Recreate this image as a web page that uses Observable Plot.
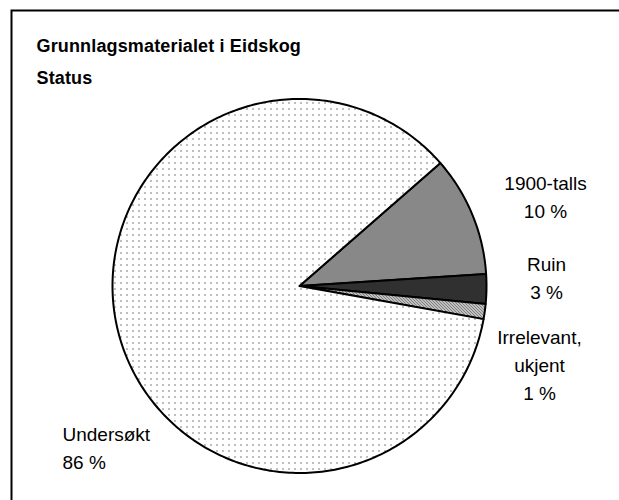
<!DOCTYPE html>
<html><head><meta charset="utf-8">
<script src="https://cdn.jsdelivr.net/npm/d3@7"></script>
<script src="https://cdn.jsdelivr.net/npm/@observablehq/plot@0.6"></script>
<style>html,body{margin:0;padding:0;background:#fff;}</style>
</head><body><div id="chart"></div>
<script>
// ---- data ----
const categories = ["1900-talls", "Ruin", "Irrelevant,\nukjent", "Undersøkt"];
const values = [10.4, 2.55, 1.3, 85.75];
const title = "Grunnlagsmaterialet i Eidskog";
const subtitle = "Status";

// ---- layout / style ----
const W = 619, H = 500, CX = 299, CY = 285.5, R = 187;
const startAngle = 48.9; // degrees clockwise from 12 o'clock
const patternIds = ["gray50", "dark", "diag", "dots"];
const labelLayout = [
  {px: 545, py: 194.5, anchor: "middle"},
  {px: 546, py: 276, anchor: "middle"},
  {px: 539, py: 362.5, anchor: "middle"},
  {px: 62, py: 445.5, anchor: "start"}
];

const total = d3.sum(values);
const toRad = Math.PI / 180;
let acc = startAngle;
const slicePolys = values.map((v, i) => {
  const a0 = acc, a1 = acc + v / total * 360;
  acc = a1;
  const pts = [{x: 0, y: 0}];
  const n = Math.max(2, Math.ceil((a1 - a0) / 1));
  for (let k = 0; k <= n; k++) {
    const a = (a0 + (a1 - a0) * k / n) * toRad;
    pts.push({x: Math.sin(a), y: -Math.cos(a)});
  }
  return pts;
});

const labels = categories.map((c, i) => ({
  text: c + "\n" + Math.round(values[i]) + " %",
  x: (labelLayout[i].px - CX) / R,
  y: (labelLayout[i].py - CY) / R,
  anchor: labelLayout[i].anchor
}));

const font = "'Liberation Sans', Arial, sans-serif";

const plot = Plot.plot({
  width: W, height: H,
  margin: 0,
  x: {domain: [-CX / R, (W - CX) / R], range: [0, W], axis: null},
  y: {domain: [-CY / R, (H - CY) / R], range: [0, H], axis: null},
  style: {fontFamily: font, background: "#fff", color: "#000"},
  marks: [
    ...slicePolys.map((pts, i) => Plot.line(pts, {
      x: "x", y: "y", curve: "linear-closed",
      fill: `url(#pat-${patternIds[i]})`,
      stroke: "#000", strokeWidth: 2, strokeLinejoin: "round"
    })),
    Plot.text(labels.filter(d => d.anchor === "middle"), {
      x: "x", y: "y", text: "text", textAnchor: "middle", lineAnchor: "middle",
      fontSize: 19, lineHeight: 1.47, fill: "#000"
    }),
    Plot.text(labels.filter(d => d.anchor === "start"), {
      x: "x", y: "y", text: "text", textAnchor: "start", lineAnchor: "middle",
      fontSize: 19, lineHeight: 1.5, fill: "#000"
    }),
    Plot.text([title + "\n" + subtitle], {
      frameAnchor: "top-left", dx: 36, dy: 29, textAnchor: "start", lineAnchor: "top",
      fontSize: 18, fontWeight: "bold", lineHeight: 1.78, fill: "#000"
    }),
    Plot.frame({stroke: "#000", strokeWidth: 2, insetLeft: 11, insetTop: 10, insetRight: -20, insetBottom: -20})
  ]
});

const defs = `
<pattern id="pat-dots" width="6" height="6" patternUnits="userSpaceOnUse">
  <rect width="6" height="6" fill="#fff"/><rect x="0" y="0" width="1" height="1" fill="#000"/>
</pattern>
<pattern id="pat-gray50" width="2" height="2" patternUnits="userSpaceOnUse">
  <rect width="2" height="2" fill="#909090"/><rect x="0" y="0" width="1" height="1" fill="#fff"/><rect x="1" y="1" width="1" height="1" fill="#000"/>
</pattern>
<pattern id="pat-dark" width="2" height="2" patternUnits="userSpaceOnUse">
  <rect width="2" height="2" fill="#000"/><rect x="0" y="0" width="1" height="1" fill="#c0c0c0"/>
</pattern>
<pattern id="pat-diag" width="3" height="3" patternUnits="userSpaceOnUse">
  <rect width="3" height="3" fill="#fff"/><rect x="0" y="0" width="1" height="1" fill="#000"/><rect x="1" y="1" width="1" height="1" fill="#000"/><rect x="2" y="2" width="1" height="1" fill="#000"/>
</pattern>`;
const svgNS = "http://www.w3.org/2000/svg";
const defsEl = document.createElementNS(svgNS, "defs");
defsEl.innerHTML = defs;
defsEl.querySelectorAll("rect").forEach(r => r.setAttribute("shape-rendering", "crispEdges"));
plot.insertBefore(defsEl, plot.firstChild);
// slight letter spacing on the title, as in the reference
plot.querySelectorAll("text").forEach(t => {
  if (t.textContent.startsWith(title)) t.setAttribute("letter-spacing", "0.15");
});
document.getElementById("chart").appendChild(plot);
</script>
</body></html>
